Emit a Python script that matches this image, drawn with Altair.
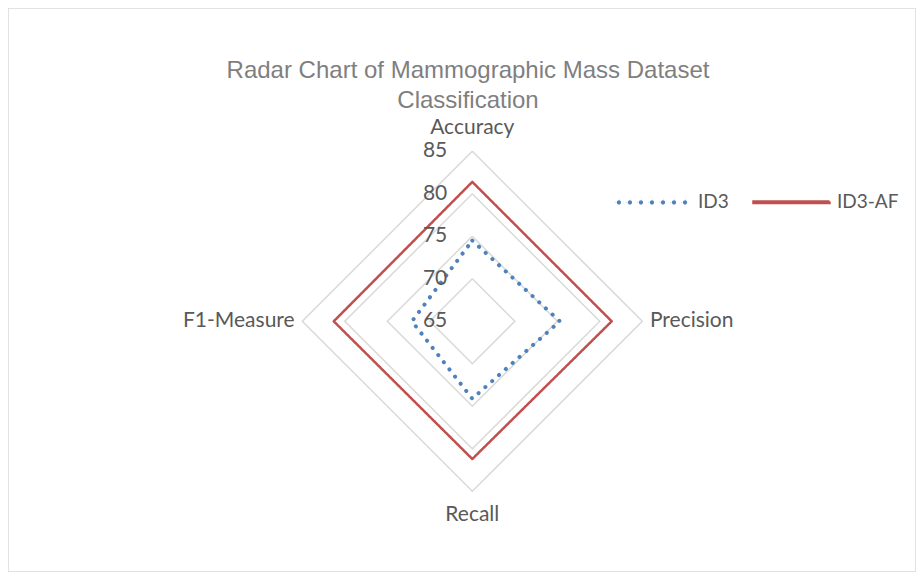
import altair as alt
import pandas as pd

metrics = ["Accuracy", "Precision", "Recall", "F1-Measure"]
id3 = [74.5, 75.3, 74.1, 72.1]
id3_af = [81.4, 81.4, 81.2, 81.3]
grid_levels = [70, 75, 80, 85]
tick_values = [65, 70, 75, 80, 85]
series_names = ["ID3", "ID3-AF"]
axis_min = 65

# long table for the series (closed polygons)
rows = []
for name, vals in zip(series_names, [id3, id3_af]):
    for k in range(len(metrics) + 1):
        i = k % len(metrics)
        rows.append({"series": name, "metric": metrics[i], "idx": i, "ord": k, "value": vals[i]})
series_df = pd.DataFrame(rows)

grid_rows = []
for lv in grid_levels:
    for k in range(len(metrics) + 1):
        grid_rows.append({"level": lv, "idx": k % len(metrics), "ord": k, "value": lv})
grid_df = pd.DataFrame(grid_rows)

label_df = pd.DataFrame({"metric": metrics, "idx": list(range(len(metrics)))})
tick_df = pd.DataFrame({"value": tick_values, "label": [str(v) for v in tick_values]})
legend_df = pd.DataFrame({"series": series_names})

W, H = 908, 564
ppu = 8.5
cx, cy = 464.3, 313.3
xs = alt.Scale(domain=[-cx / ppu, (W - cx) / ppu], nice=False, zero=False)
ys = alt.Scale(domain=[-(H - cy) / ppu, cy / ppu], nice=False, zero=False)

FONT = "Lato"
FS = 21
TXT = "#595959"


def polar(base, rexpr):
    return base.transform_calculate(
        r=rexpr,
        ang="datum.idx * PI / 2",
    ).transform_calculate(
        px="datum.r * sin(datum.ang)",
        py="datum.r * cos(datum.ang)",
    )


X = alt.X("px:Q", scale=xs, axis=None)
Y = alt.Y("py:Q", scale=ys, axis=None)
color_scale = alt.Scale(domain=series_names, range=["#4f81bd", "#c0504d"])

grid = polar(alt.Chart(grid_df), f"datum.value - {axis_min}").mark_line(
    color="#d9d9d9", strokeWidth=1.5
).encode(x=X, y=Y, detail="level:N", order="ord:Q")

lines = polar(alt.Chart(series_df), f"datum.value - {axis_min}").mark_line(
    strokeCap="round", strokeJoin="round"
).encode(
    x=X, y=Y,
    color=alt.Color("series:N", scale=color_scale, legend=None),
    strokeDash=alt.StrokeDash("series:N", scale=alt.Scale(domain=series_names, range=[[0.1, 9], [1, 0]]),
                              legend=None),
    strokeWidth=alt.StrokeWidth("series:N", scale=alt.Scale(domain=series_names, range=[4, 2.5]), legend=None),
    detail="series:N",
    order="ord:Q",
)

# legend symbols: dotted line and solid line as custom symbol paths
r = 0.055
dots = "".join(
    f"M{-0.87 + k * 0.29 - r:.4f},0a{r},{r} 0 1,0 {2 * r},0a{r},{r} 0 1,0 {-2 * r},0"
    for k in range(7)
)
solid = "M-1,-0.02H1V0.02H-1Z"
leg = alt.Legend(title=None, orient="none", legendX=604, legendY=154,
                 direction="horizontal", symbolSize=5776, symbolStrokeWidth=0,
                 labelFontSize=19, labelFont=FONT, labelColor=TXT,
                 labelOffset=6, columnPadding=19)
# legend-only layer: its symbols are placed outside the visible page
legend_layer = alt.Chart(legend_df).mark_point(
    filled=True, size=5776, opacity=1
).encode(
    x=alt.value(-2000), y=alt.value(-2000),
    color=alt.Color("series:N", scale=color_scale, legend=leg),
    shape=alt.Shape("series:N", scale=alt.Scale(domain=series_names, range=[dots, solid]), legend=leg),
)

lab_base = alt.Chart(label_df)
lab_font = dict(font=FONT, fontSize=FS, color=TXT, baseline="middle")
lab_tb = polar(lab_base.transform_filter("datum.idx % 2 == 0"), "22.75").mark_text(align="center", **lab_font).encode(x=X, y=Y, text="metric:N")
lab_r = polar(lab_base.transform_filter("datum.idx == 1"), "20.9").mark_text(align="left", **lab_font).encode(x=X, y=Y, text="metric:N")
lab_l = polar(lab_base.transform_filter("datum.idx == 3"), "20.9").mark_text(align="right", **lab_font).encode(x=X, y=Y, text="metric:N")

ticks = alt.Chart(tick_df).transform_calculate(
    px="0", py=f"datum.value - {axis_min}"
).mark_text(align="right", baseline="middle", dx=-25, font=FONT, fontSize=FS, color=TXT).encode(
    x=X, y=Y, text="label:N"
)

title_df = pd.DataFrame({"t": ["Radar Chart of Mammographic Mass Dataset\nClassification"]})
title = alt.Chart(title_df).mark_text(
    align="center", baseline="middle", lineBreak="\n", lineHeight=30,
    font="Liberation Sans", fontSize=24, color="#7f7f7f"
).encode(x=alt.value(460), y=alt.value(63), text="t:N")

chart = alt.layer(legend_layer, grid, lines, lab_tb, lab_r, lab_l, ticks, title).properties(
    width=W, height=H, autosize=alt.AutoSizeParams(type="none"), padding=0
).configure_view(stroke="#d9d9d9", strokeWidth=1.5)

chart.save("out.html", embed_options={"renderer": "svg", "actions": False})
